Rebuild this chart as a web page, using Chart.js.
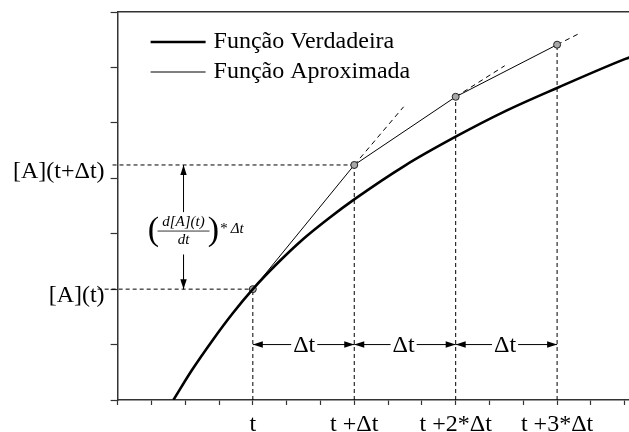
<!DOCTYPE html>
<html>
<head>
<meta charset="utf-8">
<script src="https://cdn.jsdelivr.net/npm/chart.js@4.4.1/dist/chart.umd.min.js"></script>
<style>
  html, body { margin: 0; padding: 0; overflow: hidden; background: #fff; }
  #wrap { width: 650px; height: 445px; }
</style>
</head>
<body>
<div id="wrap"><canvas id="chart"></canvas></div>
<script>
// Euler's method sketch: true curve vs. the stepwise approximation.
// All values (x in tick units, y in tick units).

// ── TRUE CURVE ─────────────────────────────────────────
const curveX = [1.65, 2.2, 2.8, 3.4, 4.0, 4.75, 5.5, 6.25, 7.0, 8.5, 10.0, 11.5, 13.0, 15.0, 15.8];
const curveY = [0, 0.54, 1.07, 1.56, 2.0, 2.48, 2.91, 3.28, 3.62, 4.23, 4.75, 5.22, 5.63, 6.15, 6.33];

// ── EULER STEPS ────────────────────────────────────────
const stepX = [4, 7, 10, 13];
const stepY = [2.0, 4.24, 5.47, 6.41];

// dashed continuation of each step past the next point
const tangentEndX = [8.46, 11.45, 13.68];
const tangentEndY = [5.29, 6.03, 6.62];

// horizontal guides start a little left of the y axis
const guideStartX = [-0.59, -0.15];

// Δt dimension arrows
const deltaArrowY = 1.0;
const deltaLabelX = [5.52, 8.46, 11.46];

// (d[A](t)/dt)*Δt annotation
const derivX = 1.95;
const derivFromY = [3.39, 2.62];
const derivToY = [4.24, 2.0];
const derivLabelY = 3.03;

// ── AXES ───────────────────────────────────────────────
const xMax = 15.6;
const xTickValues = [0, 1, 2, 3, 4, 5, 6, 7, 8, 9, 10, 11, 12, 13, 14, 15];
const xLabelValues = [4, 7, 10, 13];
const xLabelTexts = ['t', 't +Δt', 't +2*Δt', 't +3*Δt'];
const yTickValues = [0, 1, 2, 3, 4, 4.24, 5, 6, 7];
const yLabelValues = [2.0, 4.24];
const yLabelTexts = ['[A](t)', '[A](t+Δt)'];

const SERIF = '"Liberation Serif", "Times New Roman", serif';
const INK = '#000';
const AXIS = '#333';

const pts = (xs, ys) => xs.map((v, i) => ({ x: v, y: ys[i] }));

const thin = (data, extra) => Object.assign({
  data,
  borderColor: INK,
  borderWidth: 1,
  pointRadius: 0,
  fill: false,
  tension: 0,
}, extra);

const datasets = [
  thin(pts(curveX, curveY), {
    label: 'Função Verdadeira',
    borderWidth: 2.6,
    cubicInterpolationMode: 'monotone',
    legend: true,
  }),
  thin(pts(stepX, stepY), {
    label: 'Função Aproximada',
    pointRadius: 3.5,
    pointBackgroundColor: '#a8a8a8',
    pointBorderColor: '#222',
    pointBorderWidth: 1,
    legend: true,
  }),
];

// tangent continuations
tangentEndX.forEach((ex, i) => {
  datasets.push(thin([
    { x: stepX[i + 1], y: stepY[i + 1] },
    { x: ex, y: tangentEndY[i] },
  ], { borderDash: [5, 4] }));
});

// horizontal guides to the y axis labels
guideStartX.forEach((sx, i) => {
  datasets.push(thin([
    { x: sx, y: stepY[i] },
    { x: stepX[i], y: stepY[i] },
  ], { borderDash: [4, 3], clip: false }));
});

// vertical guides down to the x axis
stepX.forEach((sx, i) => {
  datasets.push(thin([
    { x: sx, y: 0 },
    { x: sx, y: stepY[i] },
  ], { borderDash: [4, 3] }));
});

// Δt arrows between consecutive steps
for (let i = 0; i < stepX.length - 1; i++) {
  datasets.push(thin([
    { x: stepX[i], y: deltaArrowY },
    { x: stepX[i + 1], y: deltaArrowY },
  ], { arrow: 'both' }));
}

// derivative annotation arrows
derivFromY.forEach((fy, i) => {
  datasets.push(thin([
    { x: derivX, y: fy },
    { x: derivX, y: derivToY[i] },
  ], { arrow: 'end' }));
});

function arrowHead(ctx, x0, y0, x1, y1) {
  const a = Math.atan2(y1 - y0, x1 - x0);
  const len = 10, half = 3.2;
  ctx.beginPath();
  ctx.moveTo(x1, y1);
  ctx.lineTo(x1 - len * Math.cos(a) + half * Math.sin(a), y1 - len * Math.sin(a) - half * Math.cos(a));
  ctx.lineTo(x1 - len * Math.cos(a) - half * Math.sin(a), y1 - len * Math.sin(a) + half * Math.cos(a));
  ctx.closePath();
  ctx.fill();
}

const annotations = {
  id: 'annotations',
  afterDatasetsDraw(chart) {
    const { ctx, chartArea, scales: { x, y } } = chart;
    ctx.save();
    ctx.fillStyle = INK;
    ctx.strokeStyle = INK;

    // arrow heads
    chart.data.datasets.forEach(ds => {
      if (!ds.arrow) return;
      const p = ds.data.map(d => [x.getPixelForValue(d.x), y.getPixelForValue(d.y)]);
      const n = p.length;
      arrowHead(ctx, p[n - 2][0], p[n - 2][1], p[n - 1][0], p[n - 1][1]);
      if (ds.arrow === 'both') arrowHead(ctx, p[1][0], p[1][1], p[0][0], p[0][1]);
    });

    // Δt labels, breaking the arrow line
    ctx.font = `24px ${SERIF}`;
    ctx.textAlign = 'center';
    ctx.textBaseline = 'middle';
    deltaLabelX.forEach(v => {
      const px = x.getPixelForValue(v);
      const py = y.getPixelForValue(deltaArrowY);
      const w = ctx.measureText('Δt').width;
      ctx.fillStyle = '#fff';
      ctx.fillRect(px - w / 2 - 2, py - 9, w + 4, 18);
      ctx.fillStyle = INK;
      ctx.fillText('Δt', px, py + 1);
    });

    // (d[A](t)/dt)*Δt
    const cx = x.getPixelForValue(derivX);
    const cy = y.getPixelForValue(derivLabelY);
    ctx.font = `italic 15px ${SERIF}`;
    ctx.fillText('d[A](t)', cx, cy - 10);
    ctx.fillText('dt', cx, cy + 8);
    ctx.lineWidth = 0.8;
    ctx.beginPath();
    ctx.moveTo(cx - 26, cy - 1);
    ctx.lineTo(cx + 26, cy - 1);
    ctx.stroke();
    ctx.font = `34px ${SERIF}`;
    ctx.fillText('(', cx - 30, cy - 1);
    ctx.fillText(')', cx + 30, cy - 1);
    ctx.font = `italic 15px ${SERIF}`;
    ctx.textAlign = 'left';
    ctx.fillText('* Δt', cx + 36, cy - 3);

    // legend
    const lx = chartArea.left + 33;
    const ly = chartArea.top + 30;
    let row = 0;
    ctx.font = `24px ${SERIF}`;
    ctx.textAlign = 'left';
    chart.data.datasets.forEach(ds => {
      if (!ds.legend) return;
      const yy = ly + row * 30;
      ctx.lineWidth = ds.borderWidth;
      ctx.beginPath();
      ctx.moveTo(lx, yy);
      ctx.lineTo(lx + 55, yy);
      ctx.stroke();
      ctx.fillText(ds.label, lx + 63, yy);
      row++;
    });
    ctx.restore();
  },
};

new Chart(document.getElementById('chart'), {
  type: 'line',
  data: { datasets },
  options: {
    responsive: true,
    maintainAspectRatio: false,
    animation: false,
    layout: { padding: { left: 7, top: 12, right: 0, bottom: 0 } },
    plugins: { legend: { display: false }, tooltip: { enabled: false } },
    scales: {
      x: {
        type: 'linear',
        min: 0,
        max: xMax,
        afterBuildTicks: s => { s.ticks = xTickValues.map(v => ({ value: v })); },
        grid: { drawOnChartArea: false, tickLength: 5, tickColor: AXIS, tickWidth: 1.2 },
        border: { display: true, color: AXIS, width: 1.5 },
        ticks: {
          autoSkip: false,
          maxRotation: 0,
          padding: 8,
          color: INK,
          font: { family: SERIF, size: 24, lineHeight: 1 },
          callback: v => {
            const i = xLabelValues.indexOf(v);
            return i >= 0 ? xLabelTexts[i] : '';
          },
        },
      },
      x2: {
        type: 'linear',
        display: true,
        position: 'top',
        min: 0,
        max: xMax,
        grid: { display: false, drawTicks: false },
        border: { display: true, color: AXIS, width: 1.5 },
        ticks: { display: false },
      },
      y: {
        min: 0,
        max: 7,
        afterBuildTicks: s => { s.ticks = yTickValues.map(v => ({ value: v })); },
        grid: {
          drawOnChartArea: false,
          tickLength: 7,
          tickWidth: 1.2,
          tickColor: c => (Number.isInteger(c.tick.value) ? AXIS : 'rgba(0,0,0,0)'),
        },
        border: { display: true, color: AXIS, width: 1.5 },
        ticks: {
          autoSkip: false,
          padding: 6,
          labelOffset: 7,
          color: INK,
          font: { family: SERIF, size: 24, lineHeight: 0.1 },
          callback: v => {
            const i = yLabelValues.indexOf(v);
            return i >= 0 ? yLabelTexts[i] : '';
          },
        },
      },
    },
  },
  plugins: [annotations],
});
</script>
</body>
</html>
